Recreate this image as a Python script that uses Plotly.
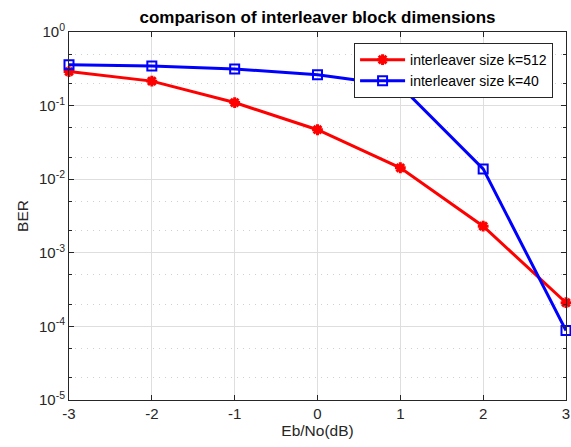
import plotly.graph_objects as go

ebno = [-3, -2, -1, 0, 1, 2, 3]
ber_k512 = [0.29, 0.215, 0.11, 0.047, 0.0143, 0.0023, 0.00021]
ber_k40 = [0.36, 0.345, 0.315, 0.262, 0.185, 0.0138, 0.000088]
names = ["interleaver size k=512", "interleaver size k=40"]
y_tickvals = [1e-5, 1e-4, 1e-3, 1e-2, 1e-1, 1]
y_ticktext = ["10<sup>-5</sup>", "10<sup>-4</sup>", "10<sup>-3</sup>", "10<sup>-2</sup>", "10<sup>-1</sup>", "10<sup>0</sup>"]

fig = go.Figure()
fig.add_trace(go.Scatter(
    x=ebno, y=ber_k512, mode="lines+markers", name=names[0],
    line=dict(color="#ff0000", width=3),
    marker=dict(symbol="asterisk", size=9, color="#ff0000", line=dict(color="#ff0000", width=3)),
    cliponaxis=False,
))
fig.add_trace(go.Scatter(
    x=ebno, y=ber_k40, mode="lines+markers", name=names[1],
    line=dict(color="#0000ff", width=3),
    marker=dict(symbol="square-open", size=9, color="#0000ff", line=dict(color="#0000ff", width=2)),
    cliponaxis=False,
))

axis_font = dict(family="Liberation Sans, Arial, sans-serif", size=15, color="#262626")
fig.update_layout(
    width=571, height=447,
    margin=dict(l=69, r=5, t=32, b=47),
    paper_bgcolor="white", plot_bgcolor="white",
    font=dict(family="Liberation Sans, Arial, sans-serif", size=15, color="#262626"),
    title=dict(text="<b>comparison of interleaver block dimensions</b>", x=0.5, xref="paper",
               xanchor="center", y=0.962, yanchor="middle",
               font=dict(size=17, color="black")),
    xaxis=dict(
        range=[-3, 3], tickvals=ebno, ticktext=[str(v) for v in ebno],
        showline=True, linecolor="#262626", linewidth=1, mirror="allticks",
        ticks="inside", ticklen=5, tickcolor="#262626",
        showgrid=True, gridcolor="#dedede", gridwidth=1,
        zeroline=False, tickfont=axis_font, automargin=False,
        title=dict(text="Eb/No(dB)", font=dict(size=15.5), standoff=2),
    ),
    yaxis=dict(
        type="log", range=[-5, 0], tickvals=y_tickvals, ticktext=y_ticktext,
        showline=True, linecolor="#262626", linewidth=1, mirror="allticks",
        ticks="inside", ticklen=5, tickcolor="#262626",
        showgrid=True, gridcolor="#dedede", gridwidth=1,
        zeroline=False, tickfont=axis_font, automargin=False,
        minor=dict(ticks="inside", ticklen=3, tickcolor="#262626", showgrid=True,
                   gridcolor="#d0d0d0", griddash="1px,5px", gridwidth=1),
        title=dict(text="BER", font=dict(size=15.5), standoff=6),
    ),
    legend=dict(
        x=0.974, y=0.970, xanchor="right", yanchor="top",
        bgcolor="white", bordercolor="#262626", borderwidth=1,
        font=dict(size=14, color="black"), tracegroupgap=0, itemwidth=45,
    ),
    showlegend=True,
)

# remove the default 8px page margin so the 571x447 figure fills the window exactly
fig.write_html("out.html",
               config={"displayModeBar": False},
               post_script="document.body.style.margin='0px';document.body.style.overflow='hidden';")
